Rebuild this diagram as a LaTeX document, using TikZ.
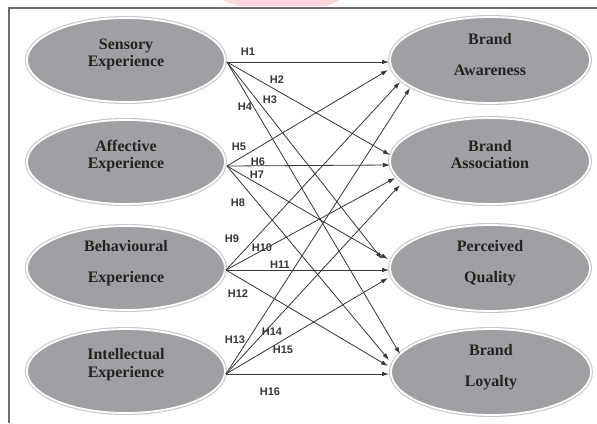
\documentclass[tikz,border=0pt]{standalone}
\usepackage{fontspec}
\setmainfont{Liberation Serif}
\newfontfamily\labfont{Liberation Sans}
\usetikzlibrary{arrows.meta,shapes.geometric}
\definecolor{ellgray}{RGB}{160,160,164}
\definecolor{linegray}{RGB}{55,55,55}
\definecolor{rimgray}{RGB}{200,200,200}
\definecolor{framegray}{RGB}{110,110,110}
\definecolor{pinkmark}{RGB}{255,214,220}
\definecolor{txt}{RGB}{35,35,35}
\begin{document}
\begin{tikzpicture}[x=1pt,y=-1pt,
  ell/.style={ellipse, minimum width=198pt, minimum height=84pt, inner sep=0pt,
    fill=ellgray, draw=white, line width=1.8pt,
    preaction={draw=rimgray, line width=4pt}},
  rell/.style={ell, minimum width=200pt, minimum height=86pt},
  etext/.style={font=\bfseries\fontsize{16}{17}\selectfont, text=txt, align=center, inner sep=0pt},
  conn/.style={draw=linegray, line width=0.8pt, -{Latex[length=7pt,width=4.5pt]}},
  hlab/.style={font=\labfont\bfseries\fontsize{11}{12}\selectfont, text=linegray, inner sep=0pt}]
\useasboundingbox (0,0) rectangle (597,423);
\fill[white] (0,0) rectangle (597,423);
% watermark
\fill[pinkmark] (222,0) -- (340,0) -- (326,6) -- (238,6) -- cycle;
% frame
\draw[framegray, line width=1.2pt] (9,423) -- (9,8) -- (597,8);
% left ellipses
\node[ell] (sens) at (126,60) {};
\node[ell] (affe) at (126,162) {};
\node[ell] (beha) at (126,268) {};
\node[ell] (inte) at (126,371) {};
\node[etext] (senst) at (126,54) {Sensory\\Experience};
\node[etext] (affet) at (126,156) {Affective\\Experience};
\node[etext] (behat) at (126,263) {Behavioural\\[14pt]Experience};
\node[etext] (intet) at (126,365) {Intellectual\\[1pt]Experience};
% right ellipses
\node[rell] (awar) at (490,60) {};
\node[rell] (asso) at (490,161) {};
\node[rell] (qual) at (490,268) {};
\node[rell] (loya) at (491,372) {};
\node[etext] (awart) at (490,55) {Brand\\[14pt]Awareness};
\node[etext] (assot) at (490,155) {Brand\\Association};
\node[etext] (qualt) at (490,263) {Perceived\\[14pt]Quality};
\node[etext] (loyat) at (491,367) {Brand\\[14pt]Loyalty};
% source points
\coordinate (s1) at (227,62);
\coordinate (s2) at (227,166);
\coordinate (s3) at (226,270);
\coordinate (s4) at (226,374);
% target points
\coordinate (a1) at (389,62);  \coordinate (a2) at (388,70);
\coordinate (a3) at (400,82);  \coordinate (a4) at (410,88);
\coordinate (b1) at (390,155); \coordinate (b2) at (390,165);
\coordinate (b3) at (395,178); \coordinate (b4) at (400,185);
\coordinate (c1) at (382,259); \coordinate (c2) at (388,259);
\coordinate (c3) at (389,270); \coordinate (c4) at (388,278);
\coordinate (d1) at (400,354); \coordinate (d2) at (389,360);
\coordinate (d3) at (388,366); \coordinate (d4) at (389,374);
% connectors
\draw[conn] (s1) -- (a1);
\draw[conn] (s1) -- (b1);
\draw[conn] (s1) -- (c1);
\draw[conn] (s1) -- (d1);
\draw[conn] (s2) -- (a2);
\draw[conn] (s2) -- (b2);
\draw[conn] (s2) -- (c2);
\draw[conn] (s2) -- (d2);
\draw[conn] (s3) -- (a3);
\draw[conn] (s3) -- (b3);
\draw[conn] (s3) -- (c3);
\draw[conn] (s3) -- (d3);
\draw[conn] (s4) -- (a4);
\draw[conn] (s4) -- (b4);
\draw[conn] (s4) -- (c4);
\draw[conn] (s4) -- (d4);
% labels
\node[hlab] (h1) at (248,52) {H1};
\node[hlab] (h2) at (277,80) {H2};
\node[hlab] (h3) at (270,100) {H3};
\node[hlab] (h4) at (245,107) {H4};
\node[hlab] (h5) at (239,147) {H5};
\node[hlab] (h6) at (258,162) {H6};
\node[hlab] (h7) at (257,175) {H7};
\node[hlab] (h8) at (238,203) {H8};
\node[hlab] (h9) at (232,239) {H9};
\node[hlab] (h10) at (262,248) {H10};
\node[hlab] (h11) at (280,265) {H11};
\node[hlab] (h12) at (238,294) {H12};
\node[hlab] (h13) at (235,340) {H13};
\node[hlab] (h14) at (272,332) {H14};
\node[hlab] (h15) at (283,350) {H15};
\node[hlab] (h16) at (270,392) {H16};
\end{tikzpicture}
\end{document}
